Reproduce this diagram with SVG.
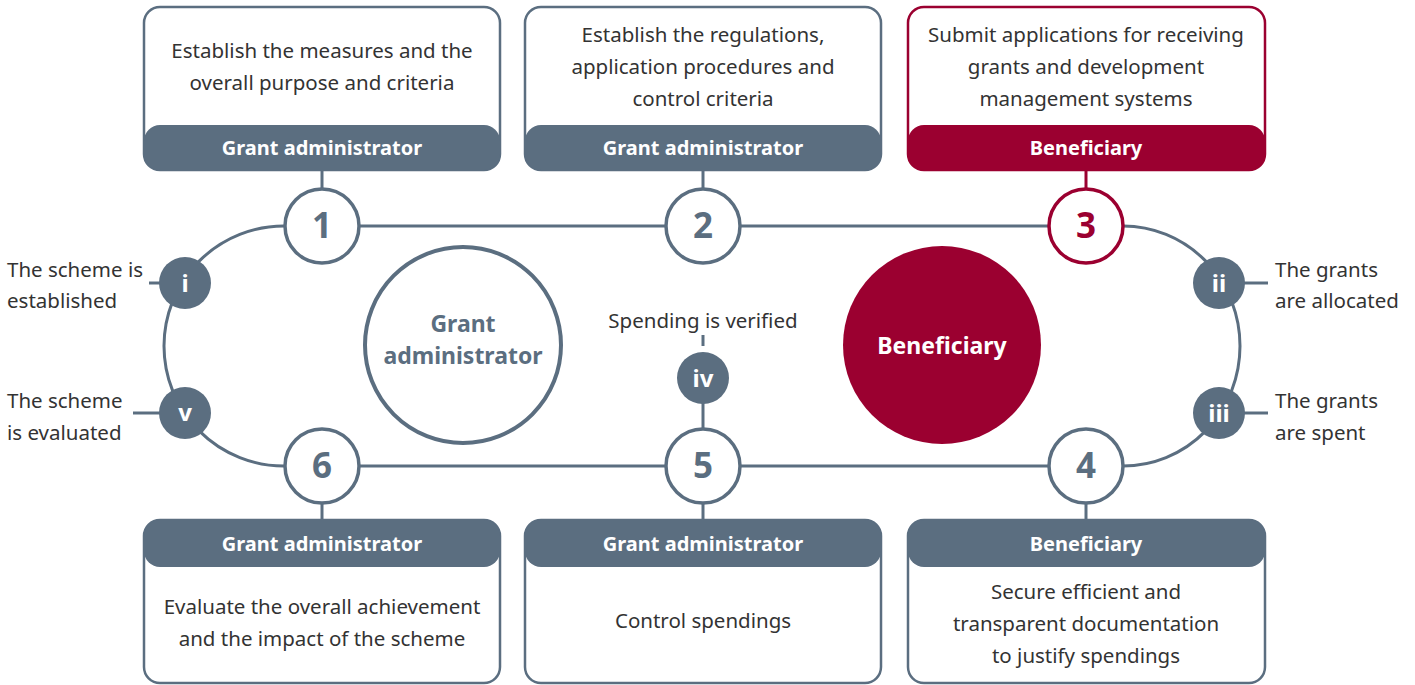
<svg xmlns="http://www.w3.org/2000/svg" width="1415" height="685" viewBox="0 0 1415 685">
<style>
.bg{fill:#ffffff}
.ln{fill:none;stroke:#5b6e80;stroke-width:3}
.lnr{fill:none;stroke:#9b0030;stroke-width:3}
.box{fill:#ffffff;stroke:#5b6e80;stroke-width:2.5}
.boxr{fill:#ffffff;stroke:#9b0030;stroke-width:2.5}
.hd{fill:#5b6e80}
.hdr{fill:#9b0030}
.num{fill:#ffffff;stroke:#5b6e80;stroke-width:3.5}
.numr{fill:#ffffff;stroke:#9b0030;stroke-width:3.5}
.dot{fill:#5b6e80}
text{font-family:"Noto Sans","Open Sans","Liberation Sans",sans-serif}
.t{font-size:20.5px;fill:#333333;text-anchor:middle}
.tl{font-size:20.5px;fill:#333333}
.h{font-size:20px;font-weight:bold;fill:#ffffff;text-anchor:middle}
.n{font-size:35px;font-weight:bold;fill:#5b6e80;text-anchor:middle}
.nr{font-size:35px;font-weight:bold;fill:#9b0030;text-anchor:middle}
.r{font-size:24px;font-weight:bold;fill:#ffffff;text-anchor:middle}
.c{font-size:23px;font-weight:bold;text-anchor:middle}
</style>
<rect class="bg" x="0" y="0" width="1415" height="685"/>
<g id="connectors">
  <path class="ln" d="M322,226 H1086"/>
  <path class="ln" d="M322,466 H1086"/>
  <path class="ln" d="M284,226 A120,120 0 0 0 284,466"/>
  <path class="ln" d="M1123,226 A117,120 0 0 1 1123,466"/>
  <path class="ln" d="M322,170 V190"/>
  <path class="ln" d="M703,170 V190"/>
  <path class="lnr" d="M1086,170 V190"/>
  <path class="ln" d="M322,503 V520"/>
  <path class="ln" d="M703,503 V520"/>
  <path class="ln" d="M1086,503 V520"/>
  <path class="ln" d="M703,378 V430"/>
  <path class="ln" d="M703,335 V346"/>
  <path class="ln" d="M149,283 H160"/>
  <path class="ln" d="M133,413 H160"/>
  <path class="ln" d="M1244,283 H1268"/>
  <path class="ln" d="M1244,413 H1268"/>
</g>
<g id="box1">
  <rect class="box" x="144" y="7" width="356" height="163" rx="16"/>
  <rect class="hd" x="144" y="125" width="356" height="45" rx="16"/>
  <text class="t" x="322" y="58">Establish the measures and the</text>
  <text class="t" x="322" y="90">overall purpose and criteria</text>
  <text class="h" x="322" y="155">Grant administrator</text>
</g>
<g id="box2">
  <rect class="box" x="525" y="7" width="356" height="163" rx="16"/>
  <rect class="hd" x="525" y="125" width="356" height="45" rx="16"/>
  <text class="t" x="703" y="42">Establish the regulations,</text>
  <text class="t" x="703" y="74">application procedures and</text>
  <text class="t" x="703" y="106">control criteria</text>
  <text class="h" x="703" y="155">Grant administrator</text>
</g>
<g id="box3">
  <rect class="boxr" x="908" y="7" width="357" height="163" rx="16"/>
  <rect class="hdr" x="908" y="125" width="357" height="45" rx="16"/>
  <text class="t" x="1086" y="42">Submit applications for receiving</text>
  <text class="t" x="1086" y="74">grants and development</text>
  <text class="t" x="1086" y="106">management systems</text>
  <text class="h" x="1086" y="155">Beneficiary</text>
</g>
<g id="box6">
  <rect class="box" x="144" y="520" width="356" height="163" rx="16"/>
  <rect class="hd" x="144" y="520" width="356" height="47" rx="16"/>
  <text class="h" x="322" y="551">Grant administrator</text>
  <text class="t" x="322" y="614">Evaluate the overall achievement</text>
  <text class="t" x="322" y="646">and the impact of the scheme</text>
</g>
<g id="box5">
  <rect class="box" x="525" y="520" width="356" height="163" rx="16"/>
  <rect class="hd" x="525" y="520" width="356" height="47" rx="16"/>
  <text class="h" x="703" y="551">Grant administrator</text>
  <text class="t" x="703" y="628">Control spendings</text>
</g>
<g id="box4">
  <rect class="box" x="908" y="520" width="357" height="163" rx="16"/>
  <rect class="hd" x="908" y="520" width="357" height="47" rx="16"/>
  <text class="h" x="1086" y="551">Beneficiary</text>
  <text class="t" x="1086" y="599">Secure efficient and</text>
  <text class="t" x="1086" y="631">transparent documentation</text>
  <text class="t" x="1086" y="663">to justify spendings</text>
</g>
<g id="step1"><circle class="num" cx="322" cy="226" r="37"/><text class="n" x="322" y="238">1</text></g>
<g id="step2"><circle class="num" cx="703" cy="226" r="37"/><text class="n" x="703" y="238">2</text></g>
<g id="step3"><circle class="numr" cx="1086" cy="226" r="37"/><text class="nr" x="1086" y="238">3</text></g>
<g id="step4"><circle class="num" cx="1086" cy="466" r="37"/><text class="n" x="1086" y="478">4</text></g>
<g id="step5"><circle class="num" cx="703" cy="466" r="37"/><text class="n" x="703" y="478">5</text></g>
<g id="step6"><circle class="num" cx="322" cy="466" r="37"/><text class="n" x="322" y="478">6</text></g>
<g id="stage-i">
  <circle class="dot" cx="185" cy="283" r="26"/><text class="r" x="185" y="292">i</text>
  <text class="tl" x="7" y="277">The scheme is</text>
  <text class="tl" x="7" y="308">established</text>
</g>
<g id="stage-ii">
  <circle class="dot" cx="1219" cy="283" r="26"/><text class="r" x="1219" y="292">ii</text>
  <text class="tl" x="1275" y="277">The grants</text>
  <text class="tl" x="1275" y="308">are allocated</text>
</g>
<g id="stage-iii">
  <circle class="dot" cx="1219" cy="413" r="26"/><text class="r" x="1219" y="422">iii</text>
  <text class="tl" x="1275" y="408">The grants</text>
  <text class="tl" x="1275" y="440">are spent</text>
</g>
<g id="stage-iv">
  <circle class="dot" cx="703" cy="378" r="26"/><text class="r" x="703" y="387">iv</text>
  <text class="t" x="703" y="328">Spending is verified</text>
</g>
<g id="stage-v">
  <circle class="dot" cx="185" cy="413" r="26"/><text class="r" x="185" y="421">v</text>
  <text class="tl" x="7" y="408">The scheme</text>
  <text class="tl" x="7" y="440">is evaluated</text>
</g>
<g id="grant-administrator">
  <circle cx="463" cy="345" r="98" fill="#ffffff" stroke="#5b6e80" stroke-width="4"/>
  <text class="c" x="463" y="332" fill="#5b6e80">Grant</text>
  <text class="c" x="463" y="364" fill="#5b6e80">administrator</text>
</g>
<g id="beneficiary">
  <circle cx="942" cy="345" r="99" fill="#9b0030"/>
  <text class="c" x="942" y="354" fill="#ffffff">Beneficiary</text>
</g>
</svg>
